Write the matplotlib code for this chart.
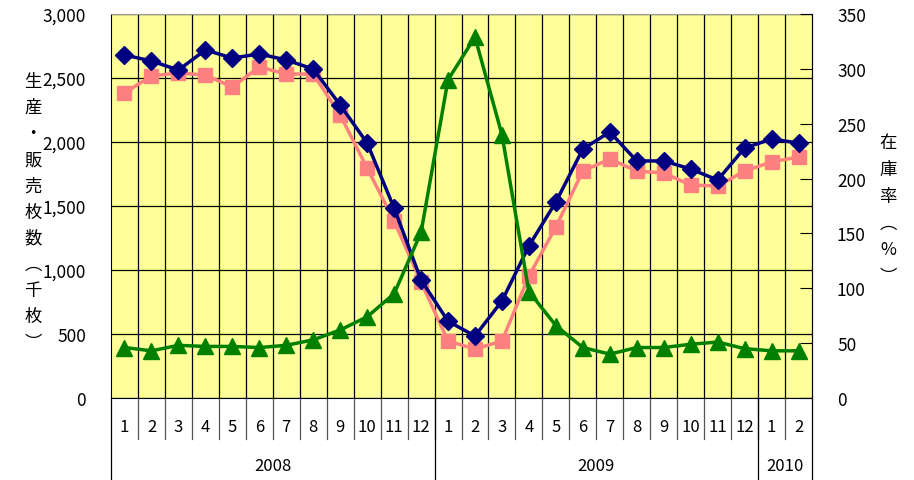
import numpy as np
import matplotlib.pyplot as plt

plt.rcParams['font.family'] = ['Noto Sans CJK JP', 'DejaVu Sans']

# 月と年
meses = ['1', '2', '3', '4', '5', '6', '7', '8', '9', '10', '11', '12',
         '1', '2', '3', '4', '5', '6', '7', '8', '9', '10', '11', '12',
         '1', '2']
anios = ['2008', '2009', '2010']
meses_por_anio = [12, 12, 2]

# 生産枚数（千枚）
produccion = [2680, 2633, 2562, 2719, 2656, 2688, 2641, 2570, 2289, 1992, 1484, 922,
              600, 484, 758, 1188, 1531, 1945, 2078, 1852, 1852, 1789, 1703, 1953,
              2023, 1992]
# 販売枚数（千枚）
ventas = [2383, 2516, 2539, 2523, 2430, 2586, 2531, 2531, 2211, 1797, 1383, 906,
          445, 383, 445, 953, 1336, 1773, 1867, 1773, 1758, 1664, 1656, 1773,
          1844, 1883]
# 在庫率（%）
inventario = [46, 43, 48, 47, 47, 46, 48, 53, 62, 74, 95, 151,
              290, 329, 240, 97, 66, 46, 40, 46, 46, 49, 51, 45,
              43, 43]

W, H = 914, 481
fig = plt.figure(figsize=(W / 100, H / 100), dpi=100)
ax = fig.add_axes([111 / W, 1 - 399 / H, (812 - 111) / W, (399 - 15) / H])
ax.set_facecolor('#FFFF99')

n = len(meses)
x = np.arange(n)
ax.set_xlim(-0.5, n - 0.5)
ax.set_ylim(0, 3000)
ax.set_yticks(np.arange(0, 3001, 500))
ax.set_yticklabels([f'{v:,}' for v in range(0, 3001, 500)], fontsize=12.5)
ax.tick_params(axis='y', length=0, pad=18)
ax.set_xticks([])
ax.grid(axis='y', color='black', linewidth=0.9)
for b in np.arange(0.5, n - 0.5, 1):
    ax.axvline(b, color='black', linewidth=0.9)
for s in ['left', 'right', 'bottom']:
    ax.spines[s].set_color('black')
ax.spines['top'].set_color('#999999')

ax.plot(x, ventas, color='#FF8080', linewidth=2.5, marker='s', markersize=10, zorder=3)
ax.plot(x, produccion, color='#000080', linewidth=2.5, marker='D', markersize=9, zorder=4)

ax2 = ax.twinx()
ax2.set_ylim(0, 350)
ax2.set_yticks(np.arange(0, 351, 50))
ax2.tick_params(axis='y', direction='in', length=9, labelsize=12.5, pad=18)
ax2.plot(x, inventario, color='#008000', linewidth=2.5, marker='^', markersize=11, zorder=5)
for s in ['top', 'left', 'bottom']:
    ax2.spines[s].set_visible(False)

# 月ラベルと区切り
y_mes = (399 - 428) / 384
y_sep = (399 - 440) / 384
y_fin = (399 - 481) / 384
trans = ax.get_xaxis_transform()
for i, m in enumerate(meses):
    ax.text(i, y_mes, m, transform=trans, ha='center', va='center', fontsize=12)
for b in np.arange(0.5, n - 0.5, 1):
    ax.plot([b, b], [0, y_sep], transform=trans, color='#555555', linewidth=0.9, clip_on=False)
inicio = -0.5
for a, k in zip(anios, meses_por_anio):
    ax.plot([inicio, inicio], [0, y_fin], transform=trans, color='black', linewidth=0.9, clip_on=False)
    ax.text(inicio + k / 2, (399 - 467) / 384, a, transform=trans, ha='center', va='center', fontsize=12)
    inicio += k
ax.plot([inicio, inicio], [0, y_fin], transform=trans, color='black', linewidth=0.9, clip_on=False)

# 縦書きラベル
izq = ['生', '産', '・', '販', '売', '枚', '数', '︵', '千', '枚', '︶']
for i, c in enumerate(izq):
    fig.text(33 / W, 1 - (82 + i * 26.1) / H, c, ha='center', va='center', fontsize=12.5)
der = ['在', '庫', '率', '︵', '%', '︶']
for i, c in enumerate(der):
    fig.text(888 / W, 1 - (143 + i * 26.8) / H, c, ha='center', va='center', fontsize=12.5)

fig.savefig('out.png', dpi=100)
